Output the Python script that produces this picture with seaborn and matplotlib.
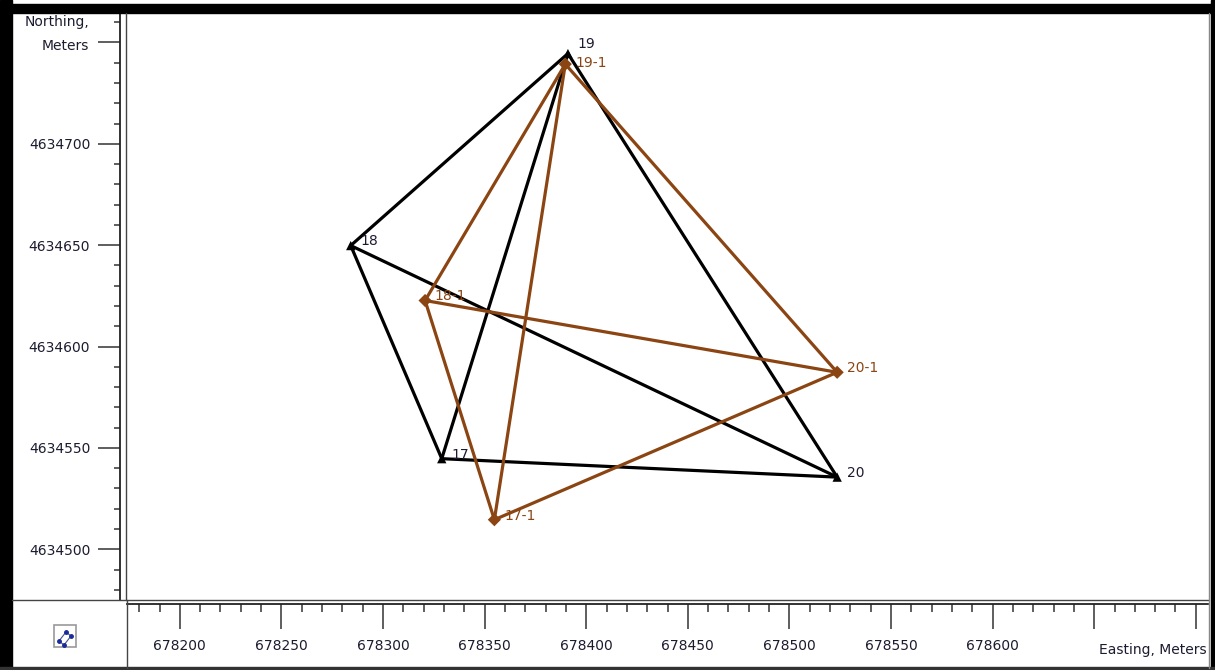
import seaborn as sns
import matplotlib.pyplot as plt
import pandas as pd
from matplotlib.lines import Line2D
from matplotlib.patches import Rectangle, Polygon
from matplotlib.ticker import MultipleLocator, FixedLocator, FixedFormatter

# station positions (Easting, Northing in meters)
names_a = ['17', '18', '19', '20']
east_a = [678328.9, 678284.1, 678391.0, 678523.5]
north_a = [4634544.7, 4634649.8, 4634744.5, 4634535.6]

names_b = ['17-1', '18-1', '19-1', '20-1']
east_b = [678354.8, 678320.7, 678389.7, 678523.5]
north_b = [4634514.6, 4634622.7, 4634739.3, 4634587.3]

x_major = [678200, 678250, 678300, 678350, 678400, 678450, 678500, 678550, 678600, 678650, 678700]
x_labels = ['678200', '678250', '678300', '678350', '678400', '678450', '678500', '678550', '678600', '', '']
y_major = [4634500, 4634550, 4634600, 4634650, 4634700, 4634750]
y_labels = ['4634500', '4634550', '4634600', '4634650', '4634700', '']

BLACK = '#000000'
BROWN = '#8B4513'
LBL_DARK = '#1c1c30'

# all edges between the four stations of each set
rows = []
for grp, names, ex, ny in [('a', names_a, east_a, north_a), ('b', names_b, east_b, north_b)]:
    for i in range(4):
        for j in range(i + 1, 4):
            key = grp + names[i] + '_' + names[j]
            rows.append(dict(grp=grp, edge=key, x=ex[i], y=ny[i]))
            rows.append(dict(grp=grp, edge=key, x=ex[j], y=ny[j]))
edges = pd.DataFrame(rows)
pts = pd.DataFrame(dict(x=east_a + east_b, y=north_a + north_b,
                        grp=['a'] * 4 + ['b'] * 4, name=names_a + names_b))

sns.set_style('white')
W, H = 1215, 670
fig = plt.figure(figsize=(W / 100, H / 100), dpi=100)
fig.patch.set_facecolor('white')

def fx(px):
    return px / W

def fy(py):
    return 1 - py / H

ax = fig.add_axes([fx(127), fy(600), fx(1208) - fx(127), fy(13) - fy(600)])

sns.lineplot(data=edges, x='x', y='y', hue='grp', units='edge', estimator=None, sort=False,
             palette={'a': BLACK, 'b': BROWN}, linewidth=2.3, legend=False, ax=ax)
sns.scatterplot(data=pts, x='x', y='y', hue='grp', style='grp',
                markers={'a': '^', 'b': 'D'}, palette={'a': BLACK, 'b': BROWN},
                s=45, linewidth=0, legend=False, ax=ax, zorder=5)
for _, r in pts.iterrows():
    col = LBL_DARK if r['grp'] == 'a' else BROWN
    dy = 3
    if r['name'] == '19':
        dy = 7
    elif r['name'] == '19-1':
        dy = 1
    ax.annotate(r['name'], (r['x'], r['y']), xytext=(7, dy), textcoords='offset points',
                ha='left', va='center', fontsize=10, color=col)

ax.set_xlim(678174, 678706)
ax.set_ylim(4634475, 4634764.5)
ax.set_xlabel('')
ax.set_ylabel('')

for s in ['top', 'right']:
    ax.spines[s].set_visible(False)
ax.spines['left'].set_position(('outward', 5))
ax.spines['bottom'].set_position(('outward', 3))
for s in ['left', 'bottom']:
    ax.spines[s].set_color('#222222')
    ax.spines[s].set_linewidth(1.3)

ax.xaxis.set_major_locator(FixedLocator(x_major))
ax.xaxis.set_major_formatter(FixedFormatter(x_labels))
ax.xaxis.set_minor_locator(MultipleLocator(10))
ax.yaxis.set_major_locator(FixedLocator(y_major))
ax.yaxis.set_major_formatter(FixedFormatter(y_labels))
ax.yaxis.set_minor_locator(MultipleLocator(10))
ax.tick_params(which='both', bottom=True, left=True)
ax.tick_params(axis='x', which='major', direction='out', length=18, width=1.1,
               pad=7, labelsize=10, colors='#333333', labelcolor=LBL_DARK)
ax.tick_params(axis='x', which='minor', direction='out', length=5.5, width=1.1, colors='#333333')
ax.tick_params(axis='y', which='major', direction='out', length=15.5, width=1.1,
               pad=6, labelsize=10, colors='#333333', labelcolor=LBL_DARK)
ax.tick_params(axis='y', which='minor', direction='out', length=4.3, width=1.1, colors='#333333')

# frame lines of the panels
def fline(x0, y0, x1, y1, c='#444444', lw=1.0):
    fig.add_artist(Line2D([fx(x0), fx(x1)], [fy(y0), fy(y1)], color=c, linewidth=lw))

fline(126, 13, 126, 600)
fline(12, 600, 1209, 600)
fline(127, 600, 127, 668)
fline(1209, 13, 1209, 668, c='#888888')

# outer black border
fig.add_artist(Rectangle((0, fy(670)), fx(12), 1, transform=fig.transFigure, color='black'))
fig.add_artist(Rectangle((0, fy(13)), 1, fy(4) - fy(13), transform=fig.transFigure, color='black'))
fig.add_artist(Rectangle((fx(1211), 0), fx(4), 1, transform=fig.transFigure, color='black'))
fig.add_artist(Rectangle((0, 0), 1, fy(667), transform=fig.transFigure, color='#333333'))

# axis titles
fig.text(fx(89), fy(22), 'Northing,', ha='right', va='center', fontsize=10, color=LBL_DARK)
fig.text(fx(89), fy(46), 'Meters', ha='right', va='center', fontsize=10, color=LBL_DARK)
fig.text(fx(1207), fy(650), 'Easting, Meters', ha='right', va='center', fontsize=10, color=LBL_DARK)

# zoom-to-extent icon
fig.add_artist(Rectangle((fx(54), fy(647)), fx(22), fy(625) - fy(647), transform=fig.transFigure,
                         facecolor='white', edgecolor='#999999', linewidth=1.2))
corners = [(59, 641), (66, 632), (71, 636), (64, 645)]
fig.add_artist(Polygon([(fx(a), fy(b)) for a, b in corners], closed=True, transform=fig.transFigure,
                       facecolor='none', edgecolor='#445588', linewidth=0.8))
for a, b in corners:
    fig.add_artist(Line2D([fx(a)], [fy(b)], marker='o', markersize=2.5, color='#1a2a9a'))

fig.savefig('out.png', dpi=100, facecolor='white')
